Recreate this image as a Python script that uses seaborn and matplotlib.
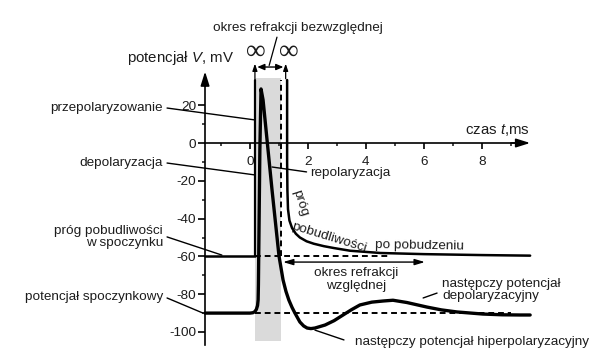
import matplotlib
matplotlib.use("Agg")
import matplotlib.pyplot as plt
import matplotlib.patches as mpatches
import seaborn as sns

# ---- data (t in ms, V in mV) ----
ap_t = [-1.55, 0.00, 0.10, 0.17, 0.22, 0.26, 0.28, 0.29, 0.34, 0.38, 0.45, 0.76, 1.00,
        1.14, 1.24, 1.34, 1.45, 1.55, 1.72, 1.85, 1.97, 2.10, 2.24, 2.59, 2.90, 3.21,
        3.50, 3.79, 4.20, 4.59, 4.93, 5.41, 6.10, 6.60, 7.14, 8.03, 8.70, 9.31, 9.66]
ap_v = [-90.0, -90.0, -89.8, -89.2, -88.0, -86.0, -83.0, -75.0, -3.7, 28.6, 22.8, -24.9, -59.8,
        -72.5, -78.5, -83.1, -87.0, -90.0, -94.7, -96.8, -97.9, -98.2, -97.9, -96.3, -94.0, -91.0,
        -88.2, -85.7, -84.2, -83.6, -83.2, -84.4, -86.8, -88.3, -89.4, -90.5, -90.9, -91.0, -91.0]

thr_t = [1.28, 1.28, 1.29, 1.31, 1.36, 1.45, 1.58, 1.72, 1.95, 2.20, 2.55, 2.90, 3.45,
         4.50, 6.00, 8.00, 9.66]
thr_v = [33.3, -10.0, -25.0, -35.0, -41.0, -45.0, -48.0, -50.0, -52.0, -53.3, -54.6, -55.6, -57.0,
         -58.2, -58.8, -59.3, -59.6]

v_rest = -90
v_threshold = -60
abs_refr = [0.17, 1.07]          # absolute refractory period (ms)
rel_refr_end = 6.03              # relative refractory period end (ms)
x_major = [0, 2, 4, 6, 8]
x_minor = [-1, 1, 3, 5, 7, 9]
y_major = [-100, -80, -60, -40, -20, 0, 20]
y_minor = [-90, -70, -50, -30, -10, 10]

sns.set_theme(style="white")
plt.rcParams["font.family"] = ["Liberation Sans", "DejaVu Sans"]
plt.rcParams["axes.unicode_minus"] = False
plt.rcParams["mathtext.fontset"] = "custom"
plt.rcParams["mathtext.it"] = "Liberation Sans:italic"
plt.rcParams["mathtext.rm"] = "Liberation Sans"

TXT = "#1c1c1c"
FS = 9.7

fig = plt.figure(figsize=(6, 3.59), dpi=100)
ax = fig.add_axes([0, 0, 1, 1])
ax.set_xlim(-250 / 29, 350 / 29)
ax.set_ylim((143 - 359) / 1.89, 143 / 1.89)
ax.set_facecolor("white")

# shaded absolute refractory period
ax.add_patch(mpatches.Rectangle((abs_refr[0], -105), abs_refr[1] - abs_refr[0], 139.4,
                                facecolor="#dadada", edgecolor="none", zorder=0))

# main curves
sns.lineplot(x=ap_t, y=ap_v, ax=ax, sort=False, estimator=None, color="black", lw=2.4, zorder=5)
sns.lineplot(x=thr_t, y=thr_v, ax=ax, sort=False, estimator=None, color="black", lw=1.8, zorder=4)

# resting threshold & reference lines
ax.plot([-1.55, abs_refr[0]], [v_threshold, v_threshold], color="black", lw=1.8)
ax.plot([abs_refr[0], 4.8], [v_threshold, v_threshold], color="black", lw=1.4, ls=(0, (3, 2)))
ax.plot([abs_refr[0], 9.0], [v_rest, v_rest], color="black", lw=1.4, ls=(0, (3, 2)))
ax.plot([abs_refr[0], abs_refr[0]], [v_threshold, 33.3], color="black", lw=1.6)
ax.plot([abs_refr[1], abs_refr[1]], [v_threshold, 33.3], color="black", lw=1.4, ls=(0, (3, 2)))

# axes spines
for s in ["top", "right"]:
    ax.spines[s].set_visible(False)
ax.spines["left"].set_position(("data", -1.55))
ax.spines["left"].set_bounds(-107, 34)
ax.spines["bottom"].set_position(("data", 0))
ax.spines["bottom"].set_bounds(-1.55, 9.2)
for s in ["left", "bottom"]:
    ax.spines[s].set_color("black")
    ax.spines[s].set_linewidth(1.2)

ax.set_xticks(x_major)
ax.set_xticklabels([str(v) for v in x_major])
ax.set_xticks(x_minor, minor=True)
ax.set_yticks(y_major)
ax.set_yticklabels([str(v) for v in y_major])
ax.set_yticks(y_minor, minor=True)
ax.tick_params(axis="x", which="major", direction="out", length=4.5, width=1.2, pad=4.5,
               labelsize=FS, labelcolor=TXT, color="black", bottom=True)
ax.tick_params(axis="x", which="minor", direction="out", length=2.5, width=1.2, bottom=True)
ax.tick_params(axis="y", which="major", direction="out", length=5, width=1.2, pad=1.5,
               labelsize=FS, labelcolor=TXT, color="black", left=True)
ax.tick_params(axis="y", which="minor", direction="out", length=2.5, width=1.2, left=True)

# axis arrows
arw = dict(arrowstyle="-|>,head_length=0.7,head_width=0.22", color="black", lw=1.2,
           shrinkA=0, shrinkB=0)
ax.annotate("", xy=(-1.55, 37.8), xytext=(-1.55, 30), arrowprops=arw)
ax.annotate("", xy=(9.66, 0), xytext=(9.0, 0), arrowprops=arw)

ax.text(-2.4, 45, "potencjał $\\mathit{V}$, mV", fontsize=10.8, color=TXT, ha="center", va="center")
ax.text(9.66, 6.9, "czas $\\mathit{t}$,ms", fontsize=10.8, color=TXT, ha="right", va="center")

# top markers
small = dict(arrowstyle="-|>,head_length=0.35,head_width=0.12", color="black", lw=0.9,
             shrinkA=0, shrinkB=0)
ax.annotate("", xy=(abs_refr[0], 42), xytext=(abs_refr[0], 34), arrowprops=small)
ax.annotate("", xy=(1.23, 42), xytext=(1.23, 34), arrowprops=small)
dbl = dict(arrowstyle="<|-|>,head_length=0.35,head_width=0.15", color="black", lw=1.0,
           shrinkA=0, shrinkB=0)
ax.annotate("", xy=(0.25, 40.2), xytext=(1.15, 40.2), arrowprops=dbl)
ax.plot([0.66, 0.93], [41, 56], color="black", lw=0.9)
ax.text(0.19, 48.0, "∞", fontsize=20, family=["Liberation Serif", "DejaVu Serif"], color=TXT,
        ha="center", va="center")
ax.text(1.34, 48.0, "∞", fontsize=20, family=["Liberation Serif", "DejaVu Serif"], color=TXT,
        ha="center", va="center")
ax.text(1.66, 60.8, "okres refrakcji bezwzględnej", fontsize=FS, color=TXT, ha="center", va="center")

# left labels with leaders
lead = dict(color="black", lw=1.0)
ax.text(-3.0, 18.5, "przepolaryzowanie", fontsize=FS, color=TXT, ha="right", va="center")
ax.plot([-2.86, 0.17], [18.5, 12.2], **lead)
ax.text(-3.0, -10.6, "depolaryzacja", fontsize=FS, color=TXT, ha="right", va="center")
ax.plot([-2.86, 0.17], [-10.6, -16.9], **lead)
ax.text(-3.0, -49.5, "próg pobudliwości\nw spoczynku", fontsize=FS, color=TXT, ha="right",
        va="center", multialignment="right", linespacing=1.0)
ax.plot([-2.86, -0.97], [-49.7, -59.3], **lead)
ax.text(-3.0, -81.5, "potencjał spoczynkowy", fontsize=FS, color=TXT, ha="right", va="center")
ax.plot([-2.86, -1.62], [-82, -90], **lead)

# right labels
ax.text(2.07, -16.0, "repolaryzacja", fontsize=FS, color=TXT, ha="left", va="center")
ax.plot([0.76, 1.95], [-12.7, -15.3], **lead)
ax.text(3.66, -72.2, "okres refrakcji\nwzględnej", fontsize=FS, color=TXT, ha="center",
        va="center", linespacing=1.05)
ax.annotate("", xy=(1.14, -63), xytext=(rel_refr_end, -63),
            arrowprops=dict(arrowstyle="<|-|>,head_length=0.5,head_width=0.15", color="black",
                            lw=1.0, shrinkA=0, shrinkB=0))
ax.text(6.62, -77.8, "następczy potencjał\ndepolaryzacyjny", fontsize=FS, color=TXT, ha="left",
        va="center", linespacing=1.05)
ax.plot([5.97, 6.45], [-82, -79.4], **lead)
ax.text(3.62, -105.3, "następczy potencjał hiperpolaryzacyjny", fontsize=FS, color=TXT,
        ha="left", va="center")
ax.plot([2.24, 3.24], [-99, -104.2], **lead)

# curved label along the post-excitation threshold
ax.text(1.74, -32.0, "próg", fontsize=FS, color=TXT, ha="center", va="center", rotation=-72)
ax.text(2.72, -50.3, "pobudliwości", fontsize=FS, color=TXT, ha="center", va="center", rotation=-17)
ax.text(5.85, -54.6, "po pobudzeniu", fontsize=FS, color=TXT, ha="center", va="center", rotation=-1)

fig.savefig("out.png", dpi=100, facecolor="white")
